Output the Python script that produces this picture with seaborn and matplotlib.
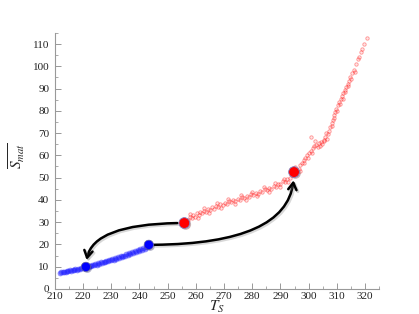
import matplotlib
matplotlib.use("Agg")
import matplotlib.pyplot as plt
import matplotlib.patheffects as pe
from matplotlib.ticker import MultipleLocator
import seaborn as sns
import pandas as pd

# red branch (upper) samples
red_T = [256.5, 257.2, 257.8, 258.5, 259.0, 259.6, 260.3, 261.0, 261.5, 262.2, 263.0, 263.6,
         264.3, 265.0, 265.8, 266.5, 267.2, 268.0, 268.7, 269.5, 270.2, 271.0, 271.8, 272.5,
         273.3, 274.0, 274.8, 275.6, 276.4, 277.2, 278.0, 278.8, 279.6, 280.4, 281.2, 282.0,
         282.8, 283.6, 284.4, 285.2, 286.0, 286.8, 287.6, 288.4, 289.2, 290.0, 290.8, 291.6,
         292.4, 293.2, 294.0, 294.8, 295.6, 296.4, 297.0, 297.6, 298.2, 298.8, 299.4, 300.0,
         300.7, 300.8, 301.5, 302.0, 302.6, 303.2, 303.6, 304.2, 304.8, 305.3, 305.9, 306.4,
         306.9, 307.3, 307.7, 308.1, 308.5, 308.9, 309.3, 309.8, 310.3, 310.8, 311.3, 311.8,
         312.3, 312.8, 313.3, 313.8, 314.3, 314.8, 315.4, 316.0, 316.7, 317.5, 318.4, 319.5, 320.6,
         258.0, 260.8, 262.8, 264.8, 267.6, 269.0, 271.4, 273.8, 276.0, 277.8, 280.0, 281.8,
         284.0, 285.8, 288.0, 289.8, 291.2, 292.8, 295.2, 296.8, 298.5, 299.8, 301.2, 302.3,
         303.9, 305.6, 306.2, 308.3, 309.0, 310.0, 311.0, 312.0, 313.0, 314.0, 315.1, 316.3,
         318.0, 319.0]
red_S = [30.5, 31.0, 32.4, 31.8, 33.1, 32.5, 34.0, 33.2, 34.6, 34.1, 35.2, 34.7,
         36.0, 35.4, 36.6, 36.0, 37.3, 36.8, 38.0, 37.5, 38.6, 38.1, 39.3, 38.9,
         40.0, 39.4, 40.6, 40.1, 41.2, 40.7, 41.8, 41.4, 42.5, 42.0, 43.2, 42.8,
         44.0, 43.5, 44.8, 44.3, 45.5, 45.1, 46.4, 46.0, 47.2, 47.0, 48.3, 48.0,
         49.5, 50.0, 51.2, 51.8, 53.5, 54.0, 55.8, 56.5, 58.0, 58.6, 60.0, 61.2,
         68.4, 62.0, 63.5, 64.0, 64.8, 63.6, 65.5, 66.0, 65.2, 67.0, 68.2, 67.5,
         69.8, 71.0, 72.6, 74.5, 76.0, 78.0, 79.5, 81.0, 82.5, 84.0, 85.2, 86.6,
         88.0, 89.3, 90.8, 92.0, 93.5, 95.0, 96.8, 98.5, 101.0, 103.5, 106.5, 110.0, 112.7,
         33.5, 31.9, 36.2, 34.3, 38.4, 36.2, 40.2, 38.2, 42.3, 40.0, 43.6, 41.6,
         45.8, 43.6, 47.4, 45.9, 49.3, 48.2, 54.8, 53.0, 56.6, 59.0, 61.0, 66.6,
         64.2, 66.4, 70.2, 73.0, 76.8, 80.0, 83.0, 85.5, 88.6, 91.0, 94.2, 97.5,
         104.0, 107.8]

# blue branch (lower) samples
blue_T = [211.8, 212.3, 212.8, 213.3, 213.8, 214.3, 214.8, 215.3, 215.8, 216.3, 216.8, 217.3,
          217.8, 218.3, 218.8, 219.3, 219.8, 220.3, 220.8, 221.3, 221.8, 222.3, 222.8, 223.3,
          223.8, 224.3, 224.8, 225.3, 225.8, 226.3, 226.8, 227.3, 227.8, 228.3, 228.8, 229.3,
          229.8, 230.3, 230.8, 231.3, 231.8, 232.3, 232.8, 233.3, 233.8, 234.3, 234.8, 235.3,
          235.8, 236.3, 236.8, 237.3, 237.8, 238.3, 238.8, 239.3, 239.8, 240.3, 240.8, 241.3,
          241.8, 242.3, 242.8, 243.3]
blue_S = [7.2, 7.5, 7.4, 7.8, 7.6, 8.0, 7.9, 8.3, 8.1, 8.5, 8.4, 8.8,
          8.6, 9.1, 8.9, 9.4, 9.2, 9.8, 9.7, 10.1, 10.0, 10.5, 10.3, 10.8,
          10.6, 11.1, 10.9, 11.5, 11.3, 11.9, 11.6, 12.2, 12.0, 12.6, 12.4, 13.0,
          12.8, 13.4, 13.2, 13.8, 13.6, 14.2, 14.0, 14.6, 14.5, 15.0, 14.9, 15.5,
          15.3, 15.9, 15.8, 16.4, 16.2, 16.8, 16.7, 17.3, 17.2, 17.8, 17.6, 18.2,
          18.1, 18.7, 18.6, 19.2]

# highlighted states
red_dots_T = [255.9, 294.8]
red_dots_S = [29.6, 52.5]
blue_dots_T = [221.0, 243.3]
blue_dots_S = [9.9, 19.8]

red = pd.DataFrame({"T": red_T, "S": red_S})
blue = pd.DataFrame({"T": blue_T, "S": blue_S})

sns.set_style("ticks")
plt.rcParams["mathtext.fontset"] = "stix"
plt.rcParams["font.family"] = ["Liberation Serif", "DejaVu Serif"]

fig = plt.figure(figsize=(4.19, 3.14), dpi=100)
ax = fig.add_axes([0.131, 0.080, 0.774, 0.815])

sns.scatterplot(data=blue, x="T", y="S", ax=ax, marker="o", s=14,
                facecolor=(0.1, 0.1, 1, 0.45), edgecolor=(0.2, 0.2, 1, 0.35), linewidth=0.5, zorder=2)
sns.scatterplot(data=red, x="T", y="S", ax=ax, marker="o", s=6,
                facecolor=(1, 0, 0, 0.1), edgecolor=(1, 0, 0, 0.4), linewidth=0.6, zorder=2)

shadow = [pe.SimpleLineShadow(offset=(1, -1), shadow_color="grey", alpha=0.3, linewidth=2.2), pe.Normal()]

# transition arrows
ax.annotate("", xy=(blue_dots_T[0], blue_dots_S[0]), xytext=(red_dots_T[0], red_dots_S[0]),
            arrowprops=dict(arrowstyle="->,head_length=0.5,head_width=0.3", color="black", lw=1.8,
                            connectionstyle="angle3,angleA=0,angleB=90",
                            shrinkA=5, shrinkB=5, path_effects=shadow), zorder=3)
ax.annotate("", xy=(red_dots_T[1], red_dots_S[1]), xytext=(blue_dots_T[1], blue_dots_S[1]),
            arrowprops=dict(arrowstyle="->,head_length=0.5,head_width=0.3", color="black", lw=1.8,
                            connectionstyle="angle3,angleA=0,angleB=90",
                            shrinkA=4, shrinkB=6, path_effects=shadow), zorder=3)

dot_fx = [pe.SimplePatchShadow(offset=(1, -1), alpha=0.3), pe.Normal()]
ax.scatter(red_dots_T, red_dots_S, s=60, color="red", edgecolor="#8080c0", linewidth=0.6,
           zorder=4, path_effects=dot_fx)
ax.scatter(blue_dots_T, blue_dots_S, s=45, color="blue", edgecolor="#6060a0", linewidth=0.5,
           zorder=4, path_effects=dot_fx)

ax.set_xlim(210, 325)
ax.set_ylim(0, 115)
ax.set_xticks(range(210, 321, 10))
ax.set_yticks(range(0, 111, 10))
ax.xaxis.set_minor_locator(MultipleLocator(5))
ax.yaxis.set_minor_locator(MultipleLocator(5))
ax.tick_params(which="both", direction="in", colors="#888888", labelcolor="#222222", labelsize=8)
ax.tick_params(axis="x", which="major", length=4, width=0.6, pad=2)
ax.tick_params(axis="y", which="major", length=4, width=0.6, pad=4)
ax.tick_params(which="minor", length=2, width=0.5)
sns.despine(ax=ax)
for side in ["left", "bottom"]:
    ax.spines[side].set_color("#999999")
    ax.spines[side].set_linewidth(0.8)

ax.set_xlabel("$T_S$", fontsize=11)
ax.set_ylabel(r"$\overline{S_{mat}}$", fontsize=11)
ax.xaxis.set_label_coords(0.5, -0.04)
ax.yaxis.set_label_coords(-0.085, 0.52)

fig.savefig("out.png", dpi=100)
